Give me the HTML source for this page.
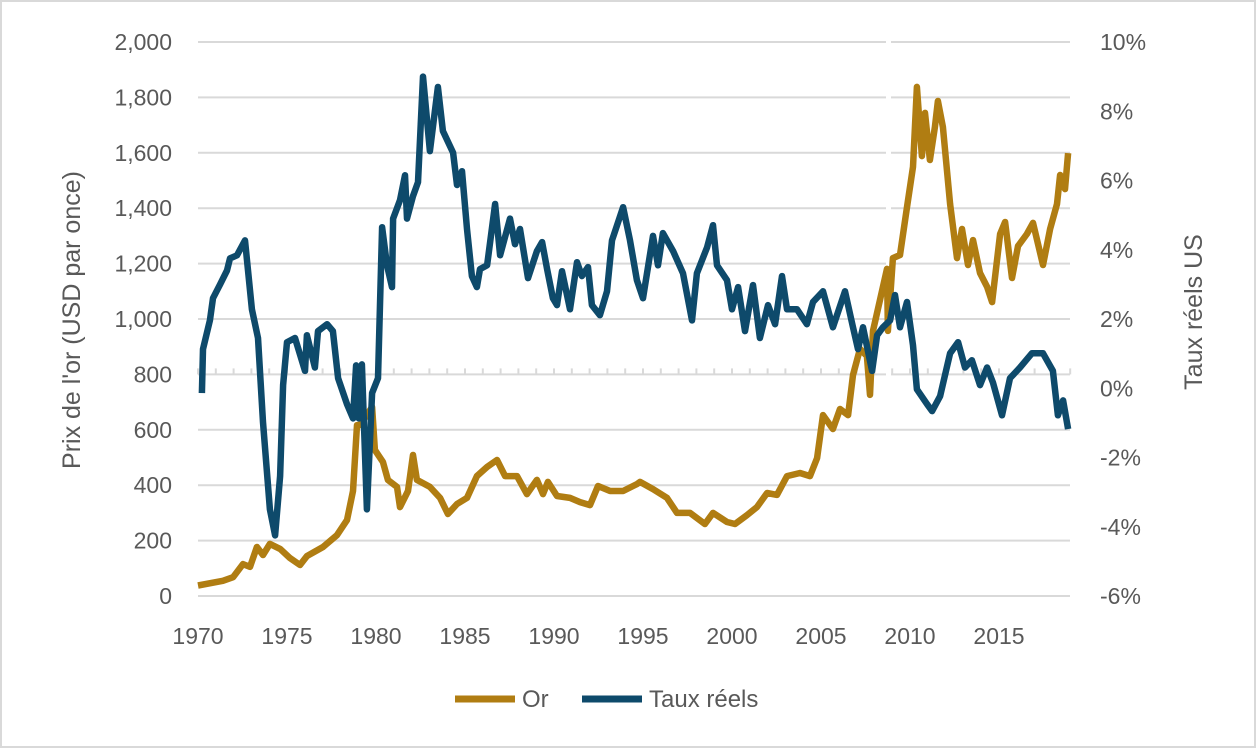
<!DOCTYPE html>
<html><head><meta charset="utf-8"><style>
html,body{margin:0;padding:0;background:#fff;}
svg{display:block;font-family:"Liberation Sans",sans-serif;}
</style></head><body>
<svg id="chart" width="1256" height="748">
<rect x="1" y="1" width="1254" height="746" fill="#fff" stroke="#d9d9d9" stroke-width="2"/>
<g id="grid"></g>
<g id="axes"></g>
<g id="series"></g>
<text x="80" y="320" transform="rotate(-90 80 320)" text-anchor="middle" font-size="25" fill="#595959">Prix de l'or (USD par once)</text>
<text x="1202" y="312" transform="rotate(-90 1202 312)" text-anchor="middle" font-size="25" fill="#595959">Taux réels US</text>
<g>
<g>
<line x1="455" y1="699" x2="515" y2="699" stroke="#b07d12" stroke-width="7"/>
<text x="522" y="707" font-size="24" fill="#595959">Or</text></g>
<g>
<line x1="582" y1="699" x2="642" y2="699" stroke="#0e4a6b" stroke-width="7"/>
<text x="649" y="707" font-size="24" fill="#595959">Taux réels</text></g>
</g>
</svg>
<script>
const xTicks=[1970,1975,1980,1985,1990,1995,2000,2005,2010,2015];
const leftTicks=[0,200,400,600,800,1000,1200,1400,1600,1800,2000];
const rightTicks=[-6,-4,-2,0,2,4,6,8,10];
const goldYears=[1970.00,1971.40,1971.97,1972.53,1972.92,1973.31,1973.65,1974.04,1974.61,1975.17,1975.73,1976.12,1977.02,1977.81,1978.37,1978.71,1978.93,1979.10,1979.78,1979.94,1980.39,1980.67,1981.18,1981.35,1981.80,1982.08,1982.30,1983.03,1983.60,1984.04,1984.55,1985.11,1985.67,1986.24,1986.80,1987.25,1987.92,1988.48,1989.04,1989.38,1989.66,1990.17,1990.90,1991.46,1992.02,1992.47,1993.15,1993.88,1994.66,1994.83,1995.56,1996.35,1996.91,1997.64,1998.48,1998.93,1999.72,2000.17,2000.84,2001.40,2001.97,2002.53,2003.09,2003.82,2004.38,2004.78,2005.11,2005.67,2006.07,2006.52,2006.80,2007.19,2007.58,2007.75,2007.92,2008.71,2008.76,2009.04,2009.44,2009.83,2010.17,2010.39,2010.67,2010.84,2011.12,2011.40,2011.57,2011.85,2012.25,2012.64,2012.92,2013.26,2013.54,2013.93,2014.33,2014.61,2015.06,2015.34,2015.73,2016.07,2016.57,2016.91,2017.47,2017.87,2018.26,2018.43,2018.71,2018.88];
const goldValues=[38,55,68,115,105,177,148,188,170,137,112,144,177,220,274,379,617,617,682,527,484,419,394,321,379,509,419,394,354,296,332,354,433,466,491,433,433,368,419,368,412,361,354,339,328,397,379,379,404,412,386,354,300,300,260,300,267,260,292,321,372,365,433,444,433,498,653,603,675,653,798,892,866,726,957,1181,957,1220,1231,1404,1549,1838,1588,1744,1574,1693,1787,1693,1415,1220,1325,1195,1285,1166,1116,1061,1307,1350,1148,1263,1307,1347,1195,1325,1415,1520,1469,1599];
const rateYears=[1970.22,1970.28,1970.67,1970.84,1971.24,1971.63,1971.80,1972.19,1972.64,1973.03,1973.37,1973.65,1974.04,1974.33,1974.61,1974.78,1975.00,1975.45,1976.01,1976.12,1976.57,1976.74,1977.25,1977.58,1977.87,1978.37,1978.71,1978.88,1979.04,1979.21,1979.49,1979.78,1980.11,1980.34,1980.62,1980.90,1980.96,1981.35,1981.63,1981.74,1982.08,1982.36,1982.64,1983.03,1983.48,1983.76,1984.33,1984.55,1984.83,1985.11,1985.39,1985.67,1985.84,1986.24,1986.69,1986.97,1987.53,1987.81,1988.09,1988.54,1989.04,1989.33,1989.61,1989.94,1990.17,1990.45,1990.90,1991.29,1991.57,1991.91,1992.13,1992.58,1992.98,1993.26,1993.88,1994.27,1994.66,1995.00,1995.56,1995.84,1996.12,1996.69,1997.25,1997.75,1998.03,1998.60,1998.93,1999.16,1999.72,2000.00,2000.34,2000.73,2001.18,2001.57,2002.02,2002.42,2002.81,2003.09,2003.65,2004.21,2004.55,2005.11,2005.67,2006.35,2006.80,2007.08,2007.36,2007.87,2008.15,2008.48,2008.88,2009.16,2009.44,2009.83,2010.17,2010.39,2010.96,2011.24,2011.69,2012.25,2012.70,2013.09,2013.48,2013.93,2014.33,2014.66,2015.17,2015.62,2016.18,2016.85,2017.47,2018.03,2018.31,2018.60,2018.88];
const rateValues=[-0.14,1.13,1.96,2.6,3.0,3.4,3.75,3.84,4.27,2.28,1.45,-0.98,-3.5,-4.25,-2.54,0.09,1.33,1.45,0.5,1.53,0.6,1.65,1.85,1.65,0.29,-0.46,-0.87,0.66,-0.87,0.69,-3.5,-0.14,0.29,4.65,3.55,2.92,4.9,5.43,6.15,4.9,5.55,5.95,9.0,6.85,8.7,7.43,6.8,5.87,6.27,4.6,3.24,2.92,3.44,3.55,5.32,3.84,4.9,4.16,4.6,3.18,3.96,4.22,3.44,2.6,2.4,3.38,2.28,3.64,3.24,3.5,2.4,2.11,2.8,4.27,5.23,4.27,3.12,2.6,4.4,3.55,4.48,3.96,3.32,1.96,3.32,4.07,4.71,3.55,3.12,2.28,2.92,1.65,2.98,1.45,2.4,1.85,3.24,2.28,2.28,1.85,2.49,2.8,1.76,2.8,1.76,1.13,1.76,0.5,1.53,1.76,1.96,2.69,1.76,2.49,1.24,-0.03,-0.46,-0.66,-0.23,1.01,1.33,0.6,0.81,0.09,0.6,0.17,-0.78,0.29,0.6,1.01,1.01,0.5,-0.78,-0.35,-1.18];

const NS="http://www.w3.org/2000/svg";
const X0=198,PX=17.8,YB=596,YT=42;
function xs(t){return X0+(t-1970)*PX;}
function yl(v){return YB-(v/2000)*(YB-YT);}
function yr(v){return YB-((v+6)/16)*(YB-YT);}
function mk(tag,attrs,parent){const e=document.createElementNS(NS,tag);for(const k in attrs)e.setAttribute(k,attrs[k]);parent.appendChild(e);return e;}
const grid=document.getElementById('grid'),axes=document.getElementById('axes'),series=document.getElementById('series');
leftTicks.forEach(v=>{
  const y=yl(v);
  const ln=mk('line',{x1:198,x2:1070,y1:y,y2:y,stroke:'#d9d9d9','stroke-width':2},grid);
  
  
  const t=mk('text',{x:172,y:y+8,'text-anchor':'end','font-size':23,fill:'#595959'},axes);
  t.textContent=v.toLocaleString('en-US');
  
  
});
rightTicks.forEach(v=>{
  const y=yr(v);
  const t=mk('text',{x:1100,y:y+8,'font-size':23,fill:'#595959'},axes);
  t.textContent=v+'%';
  
  
});
const ay=yl(800);
for(let yv=1970;yv<=2019;yv++){
  const tk=mk('line',{x1:xs(yv),x2:xs(yv),y1:ay-6,y2:ay,stroke:'#d9d9d9','stroke-width':2},axes);
  
  
}
xTicks.forEach(yv=>{
  const t=mk('text',{x:xs(yv),y:644,'text-anchor':'middle','font-size':23,fill:'#595959'},axes);
  t.textContent=yv;
  
  
});
const gap=mk('rect',{x:886,y:38,width:5,height:340,fill:'#fff'},grid);


function path(years,vals,fy){return years.map((t,i)=>(i?'L':'M')+xs(t).toFixed(1)+','+fy(vals[i]).toFixed(1)).join(' ');}
const g=mk('path',{d:path(goldYears,goldValues,yl),fill:'none',stroke:'#b07d12','stroke-width':6.5,'stroke-linejoin':'round'},series);


const r=mk('path',{d:path(rateYears,rateValues,yr),fill:'none',stroke:'#0e4a6b','stroke-width':6.5,'stroke-linejoin':'round'},series);


</script>
</body></html>
